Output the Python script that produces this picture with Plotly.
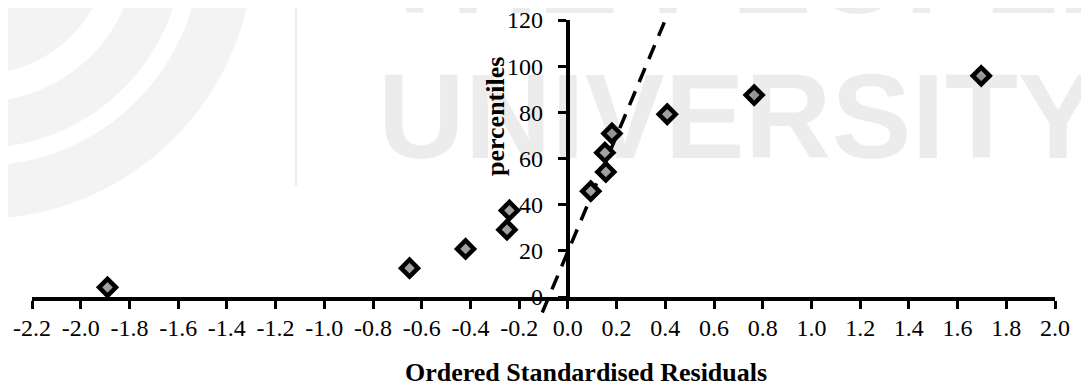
import plotly.graph_objects as go

# ---------------- data ----------------
residuals = [-1.89, -0.65, -0.42, -0.25, -0.24, 0.094, 0.156, 0.152, 0.181, 0.408, 0.765, 1.697]
percentiles = [4.17, 12.5, 20.83, 29.17, 37.5, 45.83, 54.17, 62.5, 70.83, 79.17, 87.5, 95.83]
line_x = [-0.105, 0.396]
line_y = [-6.7, 119.0]
x_ticks = [-2.2, -2.0, -1.8, -1.6, -1.4, -1.2, -1.0, -0.8, -0.6, -0.4, -0.2,
           0.0, 0.2, 0.4, 0.6, 0.8, 1.0, 1.2, 1.4, 1.6, 1.8, 2.0]
x_tick_labels = ["-2.2", "-2.0", "-1.8", "-1.6", "-1.4", "-1.2", "-1.0", "-0.8", "-0.6", "-0.4", "-0.2",
                 "0.0", "0.2", "0.4", "0.6", "0.8", "1.0", "1.2", "1.4", "1.6", "1.8", "2.0"]
y_ticks = [0, 20, 40, 60, 80, 100, 120]
y_tick_labels = ["0", "20", "40", "60", "80", "100", "120"]
x_title = "Ordered Standardised Residuals"
y_title = "percentiles"
watermark_lines = ["THE PEOPLE'S", "UNIVERSITY"]

# ---------------- geometry ----------------
OFF = 8                      # page body margin of the browser
W, H = 1089 - OFF, 385 - OFF
ML, MR, MT, MB = 24, 34, 12, 60
PW = W - ML - MR
PH = H - MT - MB
zero_px = 297.0 - OFF        # pixel row of y = 0 inside the figure
d0 = (H - MB - zero_px) / PH
y2min = -120 * d0 / (1 - d0)
xmin, xmax = -2.2, 2.0


def px_x(px):               # px given in window coordinates
    return (px - OFF - ML) / PW


def px_y(py):
    return (H - MB - (py - OFF)) / PH


serif = "Liberation Serif, Times New Roman, serif"

fig = go.Figure()
# empty trace so that the visible y axis gets its own subplot
fig.add_trace(go.Scatter(x=[None], y=[None], xaxis="x", yaxis="y", mode="markers",
                         showlegend=False, hoverinfo="skip"))
fig.add_trace(go.Scatter(
    x=line_x, y=line_y, mode="lines", xaxis="x", yaxis="y2",
    line=dict(color="black", width=3.5, dash="15px,10px"),
    showlegend=False, hoverinfo="skip"))
fig.add_trace(go.Scatter(
    x=residuals, y=percentiles, mode="markers", xaxis="x", yaxis="y2",
    marker=dict(symbol="diamond", size=13, color="#a0a0a0",
                line=dict(color="black", width=4.5)),
    cliponaxis=False, showlegend=False))

# ---------------- watermark (decoration) ----------------
shapes = []
cx, cy = -20, -55
for r, col in [(274, "#f3f3f3"), (221, "white"), (203, "#f3f3f3"), (157, "white"), (129, "#f3f3f3")]:
    shapes.append(dict(type="circle", xref="paper", yref="paper", layer="below",
                       x0=px_x(cx - r), x1=px_x(cx + r), y0=px_y(cy + r), y1=px_y(cy - r),
                       fillcolor=col, line=dict(width=0)))
shapes.append(dict(type="line", xref="paper", yref="paper", layer="below",
                   x0=px_x(296), x1=px_x(296), y0=px_y(0), y1=px_y(186),
                   line=dict(color="#e4e4e4", width=1.5)))

wm_font = dict(family="Liberation Sans, Arial", size=120, color="rgba(0,0,0,0.075)")
annotations = [
    dict(text="<b>%s</b>" % watermark_lines[0], xref="paper", yref="paper",
         x=px_x(376), y=px_y(-29), xanchor="left", yanchor="middle",
         showarrow=False, font=wm_font),
    dict(text="<b>%s</b>" % watermark_lines[1], xref="paper", yref="paper",
         x=px_x(376), y=px_y(116), xanchor="left", yanchor="middle",
         showarrow=False, font=wm_font),
    dict(text="<b>%s</b>" % x_title, xref="paper", yref="paper",
         x=px_x(586), y=px_y(372), xanchor="center", yanchor="middle",
         showarrow=False, font=dict(family=serif, size=26, color="black")),
    dict(text="<b>%s</b>" % y_title, xref="paper", yref="paper",
         x=px_x(495), y=px_y(117), xanchor="center", yanchor="middle", textangle=-90,
         showarrow=False, font=dict(family=serif, size=26, color="black")),
]

fig.update_layout(
    width=W, height=H,
    margin=dict(l=ML, r=MR, t=MT, b=MB, pad=0, autoexpand=False),
    paper_bgcolor="white", plot_bgcolor="rgba(0,0,0,0)",
    showlegend=False,
    shapes=shapes, annotations=annotations,
    xaxis=dict(domain=[0, 1], range=[xmin, xmax], anchor="y", automargin=False,
               showline=True, linewidth=4, linecolor="black",
               ticks="outside", ticklen=8, tickwidth=3, tickcolor="black",
               tickvals=x_ticks, ticktext=x_tick_labels,
               tickfont=dict(family=serif, size=24, color="black"),
               ticklabelstandoff=-2, ticklabeloverflow="allow",
               showgrid=False, zeroline=False, fixedrange=True),
    yaxis=dict(domain=[d0, 1], range=[0, 120], anchor="free", automargin=False,
               position=(0 - xmin) / (xmax - xmin),
               showline=True, linewidth=4, linecolor="black",
               ticks="outside", ticklen=8, tickwidth=3, tickcolor="black",
               tickvals=y_ticks, ticktext=y_tick_labels,
               tickfont=dict(family=serif, size=24, color="black"),
               ticklabelstandoff=10, ticklabeloverflow="allow",
               showgrid=False, zeroline=False, fixedrange=True),
    yaxis2=dict(domain=[0, 1], range=[y2min, 120], anchor="x", visible=False,
                automargin=False, fixedrange=True),
)

fig.write_html("out.html")
